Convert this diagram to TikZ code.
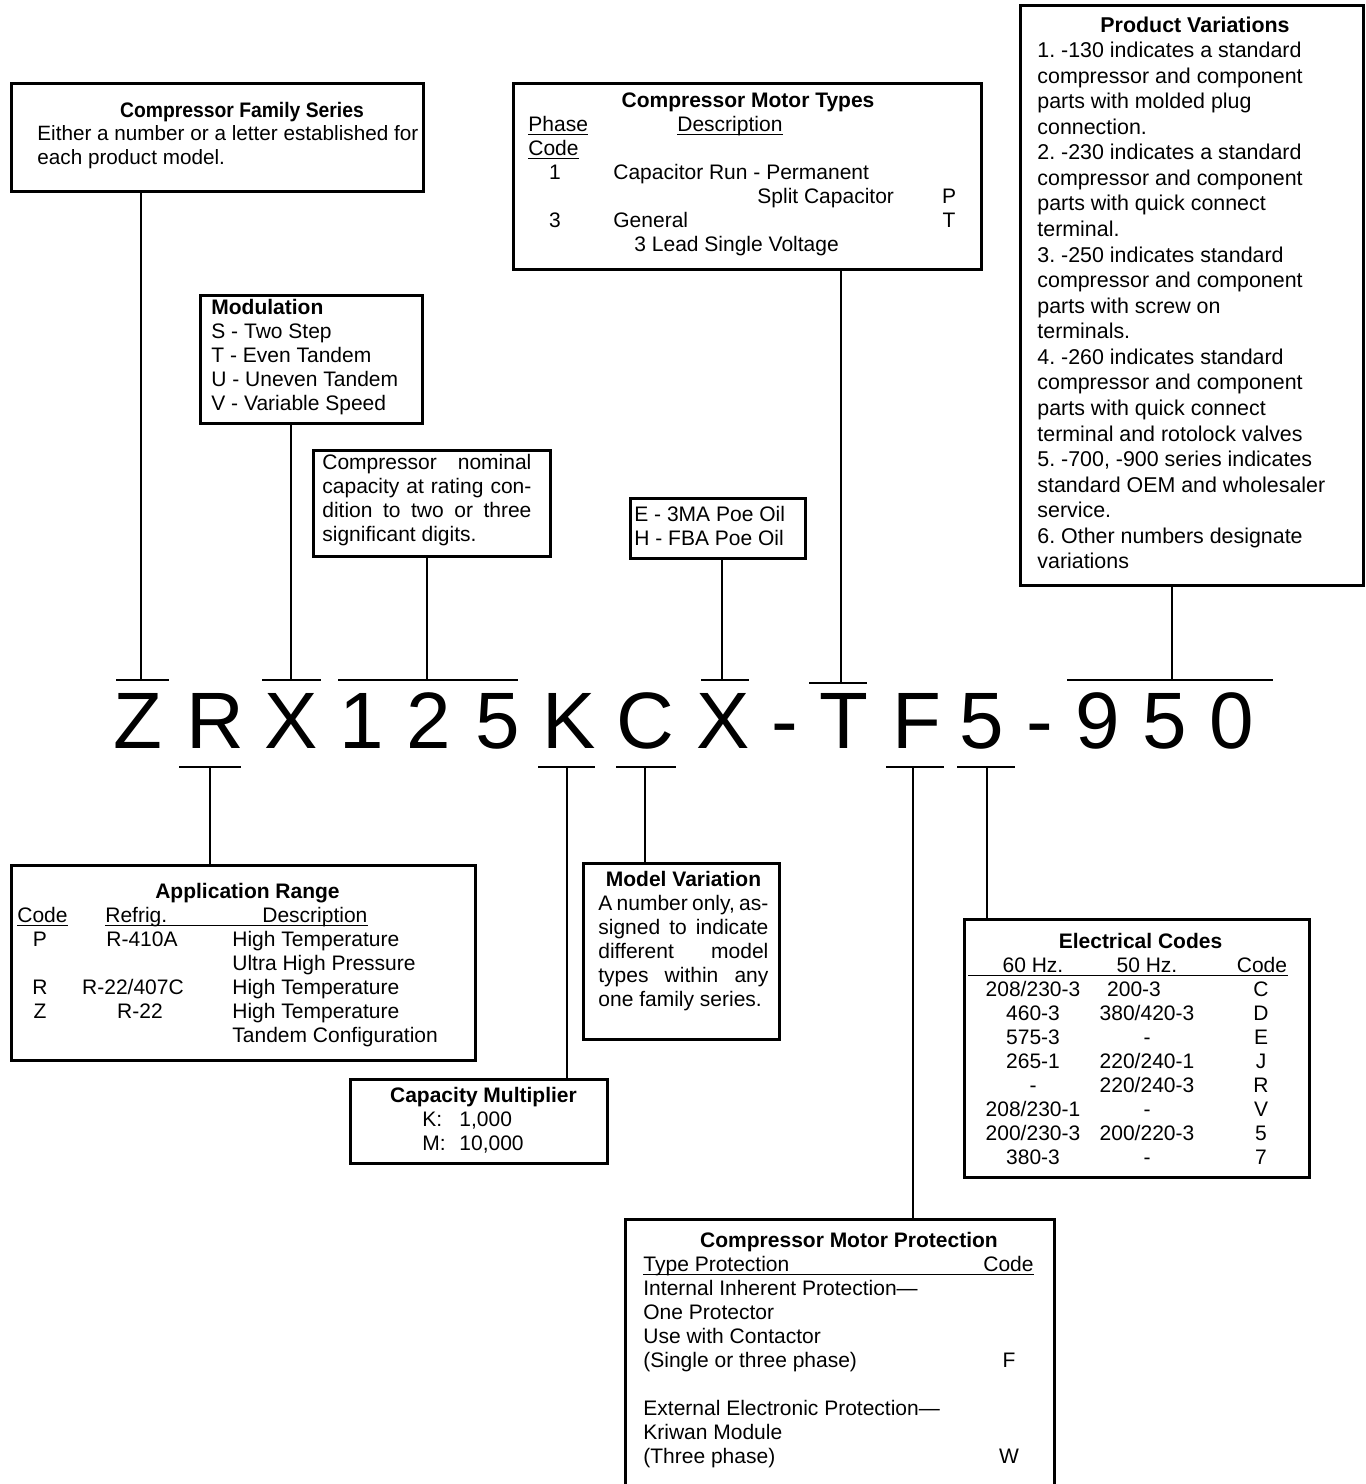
\documentclass[tikz,border=0pt]{standalone}
\usepackage{fontspec}
\setmainfont{Liberation Sans}
\usepackage{graphicx}
\frenchspacing
\begin{document}
\begin{tikzpicture}[x=0.5pt,y=-0.5pt,
  box/.style={draw, line width=1.25pt, inner sep=0pt, anchor=north west},
  conn/.style={line width=1pt},
  tbar/.style={line width=1.3pt},
  ul/.style={line width=0.6pt},
  tx/.style={inner sep=0pt, anchor=base west, font=\fontsize{10.5}{12}\selectfont},
  txc/.style={tx, anchor=base},
  txr/.style={tx, anchor=base east},
  txb/.style={tx, font=\fontsize{10.5}{12}\selectfont\bfseries},
  ttl/.style={inner sep=0pt, anchor=base, font=\fontsize{10.5}{12}\selectfont\bfseries},
  big/.style={inner sep=0pt, anchor=base, font=\fontsize{40}{40}\selectfont},
]
\useasboundingbox (0,0) rectangle (1366,1484);

% ---------- model number ----------
\foreach \c/\x [count=\i] in {Z/138, R/215.5, X/291.5, 1/362, 2/429, 5/497.5, K/569, C/645.5, X/723, -/785, T/843.5, F/917, 5/982, -/1040, 9/1098, 5/1165, 0/1231.5}
  \node[big] (L\i) at (\x,748) {\c};

% ---------- boxes ----------
\node[box, minimum width=206pt, minimum height=54pt] (famB) at (10,82) {};
\node[box, minimum width=111pt, minimum height=64pt] (modB) at (199,294) {};
\node[box, minimum width=118.5pt, minimum height=53pt] (nomB) at (312,449) {};
\node[box, minimum width=87.5pt, minimum height=30pt] (oilB) at (629,497) {};
\node[box, minimum width=234pt, minimum height=93pt] (motB) at (512,82) {};
\node[box, minimum width=171.5pt, minimum height=290pt] (varB) at (1019,4) {};
\node[box, minimum width=232pt, minimum height=97.5pt] (appB) at (10,864) {};
\node[box, minimum width=128.5pt, minimum height=42pt] (capB) at (349,1078) {};
\node[box, minimum width=98pt, minimum height=88pt] (mvB) at (582,862) {};
\node[box, minimum width=172.5pt, minimum height=129pt] (elB) at (963,918) {};
\node[box, minimum width=214.5pt, minimum height=140pt] (prB) at (624,1218) {};

% ---------- connectors (top) ----------
\coordinate (tZ) at (141,680);
\coordinate (tX) at (291,680);
\coordinate (tN) at (427,680);
\coordinate (tO) at (722,680);
\coordinate (tT) at (841,683);
\coordinate (tV) at (1172,680);
\draw[conn] (famB.south -| tZ) -- (tZ);
\draw[conn] (modB.south -| tX) -- (tX);
\draw[conn] (nomB.south -| tN) -- (tN);
\draw[conn] (oilB.south -| tO) -- (tO);
\draw[conn] (motB.south -| tT) -- (tT);
\draw[conn] (varB.south -| tV) -- (tV);
\draw[tbar] (116,680) -- (169,680);
\draw[tbar] (262,680) -- (321,680);
\draw[tbar] (338,680) -- (518,680);
\draw[tbar] (701,680) -- (749,680);
\draw[tbar] (809,683) -- (867,683);
\draw[tbar] (1067,680) -- (1273,680);

% ---------- connectors (bottom) ----------
\coordinate (bR) at (210,767);
\coordinate (bK) at (567,767);
\coordinate (bC) at (645,767);
\coordinate (bF) at (913,767);
\coordinate (b5) at (987,767);
\draw[conn] (bR) -- (appB.north -| bR);
\draw[conn] (bK) -- (capB.north -| bK);
\draw[conn] (bC) -- (mvB.north -| bC);
\draw[conn] (bF) -- (prB.north -| bF);
\draw[conn] (b5) -- (elB.north -| b5);
\draw[tbar] (179,767) -- (241,767);
\draw[tbar] (538,767) -- (595,767);
\draw[tbar] (616,767) -- (676,767);
\draw[tbar] (886,767) -- (944,767);
\draw[tbar] (957,767) -- (1015,767);

% ---------- Compressor Family Series ----------
\node[ttl] (famT) at (242,117) {\scalebox{0.92}[1]{Compressor Family Series}};
\node[tx, font=\fontsize{10.35}{12}\selectfont] (fam1) at (37,140) {Either a number or a letter established for};
\node[tx, font=\fontsize{10.35}{12}\selectfont] (fam2) at (37,164) {each product model.};

% ---------- Modulation ----------
\node[txb] (mod0) at (211,314) {Modulation};
\node[tx] (mod1) at (211,338) {S - Two Step};
\node[tx] (mod2) at (211,362) {T - Even Tandem};
\node[tx] (mod3) at (211,386) {U - Uneven Tandem};
\node[tx] (mod4) at (211,410) {V - Variable Speed};

% ---------- nominal capacity ----------
\node[tx] (nom1) at (322,469) {\makebox[104.5pt][s]{Compressor nominal}};
\node[tx] (nom2) at (322,493) {\makebox[104.5pt][s]{capacity at rating con-}};
\node[tx] (nom3) at (322,517) {\makebox[104.5pt][s]{dition to two or three}};
\node[tx] (nom4) at (322,541) {significant digits.};

% ---------- oil ----------
\node[tx] (oil1) at (634,521) {E - 3MA Poe Oil};
\node[tx] (oil2) at (634,545) {H - FBA Poe Oil};

% ---------- Compressor Motor Types ----------
\node[ttl] (motT) at (748,107) {Compressor Motor Types};
\node[tx] (motPh) at (528,131) {Phase};
\node[tx] (motDe) at (677,131) {Description};
\node[tx] (motCo) at (528,155) {Code};
\draw[ul] ([yshift=-1.6pt]motPh.base west) -- ([yshift=-1.6pt]motPh.base east);
\draw[ul] ([yshift=-1.6pt]motDe.base west) -- ([yshift=-1.6pt]motDe.base east);
\draw[ul] ([yshift=-1.6pt]motCo.base west) -- ([yshift=-1.6pt]motCo.base east);
\node[txc] (mot1a) at (555,179) {1};
\node[tx] (mot1b) at (613,179) {Capacitor Run - Permanent};
\node[tx] (mot2b) at (757,203) {Split Capacitor};
\node[txc] (mot2c) at (949,203) {P};
\node[txc] (mot3a) at (555,227) {3};
\node[tx] (mot3b) at (613,227) {General};
\node[txc] (mot3c) at (949,227) {T};
\node[tx] (mot4b) at (634,251) {3 Lead Single Voltage};

% ---------- Product Variations ----------
\node[ttl, font=\fontsize{10.7}{12.8}\selectfont\bfseries] (varT) at (1195,32) {Product Variations};
\foreach \t [count=\i] in {
  {1. -130 indicates a standard},
  {compressor and component},
  {parts with molded plug},
  {connection.},
  {2. -230 indicates a standard},
  {compressor and component},
  {parts with quick connect},
  {terminal.},
  {3. -250 indicates standard},
  {compressor and component},
  {parts with screw on},
  {terminals.},
  {4. -260 indicates standard},
  {compressor and component},
  {parts with quick connect},
  {terminal and rotolock valves},
  {5. -700, -900 series indicates},
  {standard OEM and wholesaler},
  {service.},
  {6. Other numbers designate},
  {variations}}
  \node[tx, font=\fontsize{10.7}{12.8}\selectfont] (var\i) at (1037,{57.5+(\i-1)*25.57}) {\t};

% ---------- Application Range ----------
\node[ttl] (appT) at (247.5,898) {Application Range};
\node[tx] (appCo) at (17,922) {Code};
\node[tx] (appRe) at (105,922) {Refrig.};
\node[tx] (appDe) at (262,922) {Description};
\draw[ul] ([yshift=-1.6pt]appCo.base west) -- ([yshift=-1.6pt]appCo.base east);
\draw[ul] ([yshift=-1.6pt]appRe.base west) -- ([yshift=-1.6pt]appDe.base east);
\node[txc] (app1a) at (40,946) {P};
\node[txc] (app1b) at (142,946) {R-410A};
\node[tx] (app1c) at (232,946) {High Temperature};
\node[tx] (app2c) at (232,970) {Ultra High Pressure};
\node[txc] (app3a) at (40,994) {R};
\node[txc] (app3b) at (133,994) {R-22/407C};
\node[tx] (app3c) at (232,994) {High Temperature};
\node[txc] (app4a) at (40,1018) {Z};
\node[txc] (app4b) at (140,1018) {R-22};
\node[tx] (app4c) at (232,1018) {High Temperature};
\node[tx] (app5c) at (232,1042) {Tandem Configuration};

% ---------- Capacity Multiplier ----------
\node[ttl] (capT) at (483.5,1102) {Capacity Multiplier};
\node[tx] (cap1a) at (422,1126) {K:};
\node[tx] (cap1b) at (459,1126) {1,000};
\node[tx] (cap2a) at (422,1150) {M:};
\node[tx] (cap2b) at (459,1150) {10,000};

% ---------- Model Variation ----------
\node[ttl] (mvT) at (683.5,886) {Model Variation};
\node[tx] (mv1) at (598,910) {\makebox[85pt][s]{A number only, as-}};
\node[tx] (mv2) at (598,934) {\makebox[85pt][s]{signed to indicate}};
\node[tx] (mv3) at (598,958) {\makebox[85pt][s]{different model}};
\node[tx] (mv4) at (598,982) {\makebox[85pt][s]{types within any}};
\node[tx] (mv5) at (598,1006) {one family series.};

% ---------- Electrical Codes ----------
\node[ttl] (elT) at (1140.5,948) {Electrical Codes};
\node[txc] (elH1) at (1033,972) {60 Hz.};
\node[txc] (elH2) at (1147,972) {50 Hz.};
\node[txc] (elH3) at (1262,972) {Code};
\coordinate (elUL) at (968,972);
\draw[ul] ([yshift=-1.6pt]elUL) -- ([yshift=-1.6pt]elH3.base east);
\node[txc] (e1a) at (1033,996) {208/230-3};
\node[txc] (e1b) at (1134,996) {200-3};
\node[txc] (e1c) at (1261,996) {C};
\node[txc] (e2a) at (1033,1020) {460-3};
\node[txc] (e2b) at (1147,1020) {380/420-3};
\node[txc] (e2c) at (1261,1020) {D};
\node[txc] (e3a) at (1033,1044) {575-3};
\node[txc] (e3b) at (1147,1044) {-};
\node[txc] (e3c) at (1261,1044) {E};
\node[txc] (e4a) at (1033,1068) {265-1};
\node[txc] (e4b) at (1147,1068) {220/240-1};
\node[txc] (e4c) at (1261,1068) {J};
\node[txc] (e5a) at (1033,1092) {-};
\node[txc] (e5b) at (1147,1092) {220/240-3};
\node[txc] (e5c) at (1261,1092) {R};
\node[txc] (e6a) at (1033,1116) {208/230-1};
\node[txc] (e6b) at (1147,1116) {-};
\node[txc] (e6c) at (1261,1116) {V};
\node[txc] (e7a) at (1033,1140) {200/230-3};
\node[txc] (e7b) at (1147,1140) {200/220-3};
\node[txc] (e7c) at (1261,1140) {5};
\node[txc] (e8a) at (1033,1164) {380-3};
\node[txc] (e8b) at (1147,1164) {-};
\node[txc] (e8c) at (1261,1164) {7};

% ---------- Compressor Motor Protection ----------
\node[ttl] (prT) at (849,1247) {Compressor Motor Protection};
\node[tx] (prH1) at (643,1271) {Type Protection};
\node[txr] (prH2) at (1034,1271) {Code};
\draw[ul] ([yshift=-1.6pt]prH1.base west) -- ([yshift=-1.6pt]prH2.base east);
\node[tx] (pr1) at (643,1295) {Internal Inherent Protection—};
\node[tx] (pr2) at (643,1319) {One Protector};
\node[tx] (pr3) at (643,1343) {Use with Contactor};
\node[tx] (pr4) at (643,1367) {(Single or three phase)};
\node[txc] (pr4c) at (1009,1367) {F};
\node[tx] (pr5) at (643,1415) {External Electronic Protection—};
\node[tx] (pr6) at (643,1439) {Kriwan Module};
\node[tx] (pr7) at (643,1463) {(Three phase)};
\node[txc] (pr7c) at (1009,1463) {W};
\end{tikzpicture}
\end{document}
